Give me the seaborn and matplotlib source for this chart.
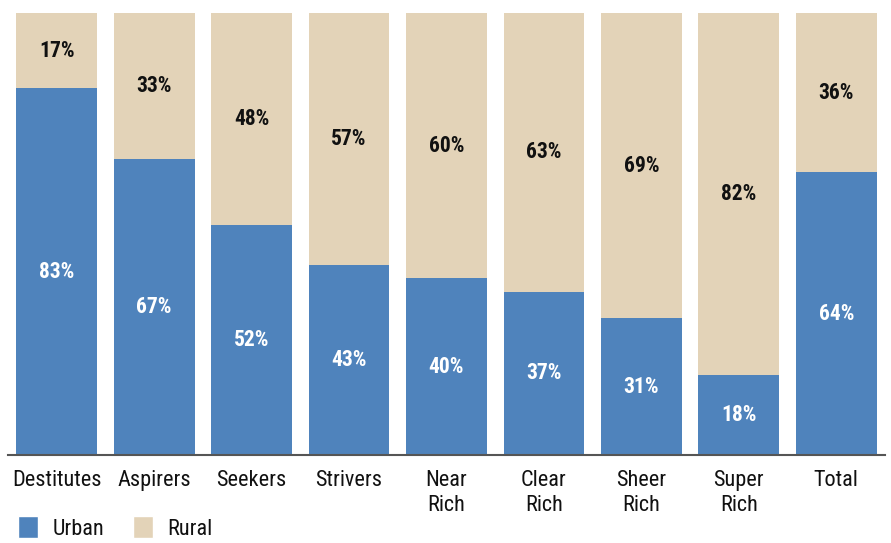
import matplotlib
matplotlib.use("Agg")
import matplotlib.pyplot as plt
from matplotlib.patches import Patch
import seaborn as sns
import pandas as pd

categories = ["Destitutes", "Aspirers", "Seekers", "Strivers", "Near\nRich",
              "Clear\nRich", "Sheer\nRich", "Super\nRich", "Total"]
urban = [83, 67, 52, 43, 40, 37, 31, 18, 64]
rural = [17, 33, 48, 57, 60, 63, 69, 82, 36]

URBAN_COLOR = "#4F83BC"
RURAL_COLOR = "#E3D3B8"

sns.set_theme(style="white")
plt.rcParams["font.family"] = ["Roboto Condensed", "DejaVu Sans"]

df = pd.DataFrame({"segment": categories, "Urban": urban, "Rural": rural})
df["stack_top"] = df["Urban"] + df["Rural"]

fig = plt.figure(figsize=(8.91, 5.43), dpi=100)
ax = fig.add_axes([8 / 891, 1 - 455 / 543, 877 / 891, 444 / 543])

# full-height rural bar first, then the urban share painted over its base
sns.barplot(data=df, x="segment", y="stack_top", color=RURAL_COLOR,
            width=0.83, saturation=1, ax=ax, edgecolor="none")
sns.barplot(data=df, x="segment", y="Urban", color=URBAN_COLOR,
            width=0.83, saturation=1, ax=ax, edgecolor="none")

for i, (u, r) in enumerate(zip(urban, rural)):
    ax.text(i, u / 2, f"{u}%", ha="center", va="center", color="white",
            fontsize=15.5, fontweight="bold")
    ax.text(i, u + r / 2, f"{r}%", ha="center", va="center", color="#111111",
            fontsize=15.5, fontweight="bold")

ax.set_xlim(-0.5, 8.5)
ax.set_ylim(0, 100.5)
ax.set_xlabel("")
ax.set_ylabel("")
ax.set_yticks([])
ax.tick_params(axis="x", length=0, pad=10.5, labelsize=16, colors="#111111")
for lbl in ax.get_xticklabels():
    lbl.set_linespacing(1.3)
for side in ["left", "right", "top"]:
    ax.spines[side].set_visible(False)
ax.spines["bottom"].set_color("#555555")
ax.spines["bottom"].set_linewidth(1.5)

handles = [Patch(facecolor=URBAN_COLOR, label="Urban"),
           Patch(facecolor=RURAL_COLOR, label="Rural")]
leg = fig.legend(handles=handles, loc="lower left", bbox_to_anchor=(18 / 891, 0.006),
                 ncol=2, frameon=False, fontsize=16, handlelength=0.9,
                 handleheight=1.15, handletextpad=0.65, columnspacing=1.3,
                 borderpad=0, borderaxespad=0)
for t in leg.get_texts():
    t.set_color("#111111")

fig.savefig("out.png", dpi=100)
